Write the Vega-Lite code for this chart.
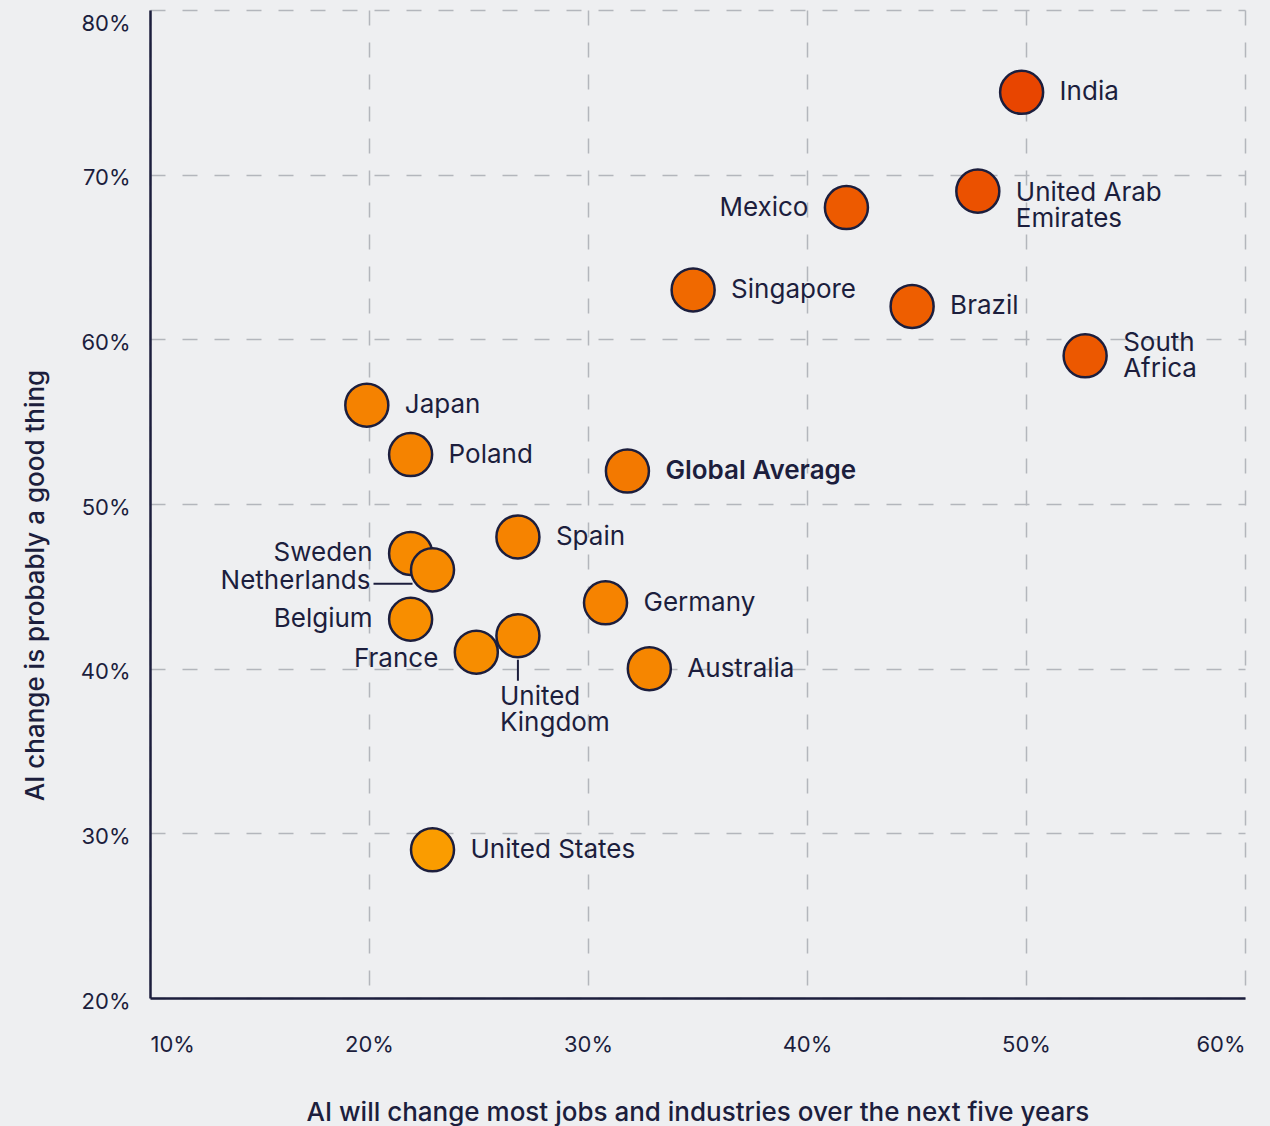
{
  "$schema": "https://vega.github.io/schema/vega-lite/v6.json",
  "width": 1095,
  "height": 988,
  "autosize": "none",
  "padding": {"left": 150, "top": 10, "right": 25, "bottom": 128},
  "background": "#EEEFF1",
  "config": {"view": {"stroke": null}, "font": "Inter"},
  "data": {
    "values": [
      {"country": "India", "x": 49.8, "y": 75},
      {"country": "United Arab Emirates", "x": 47.8, "y": 69},
      {"country": "Mexico", "x": 41.8, "y": 68},
      {"country": "Singapore", "x": 34.8, "y": 63},
      {"country": "Brazil", "x": 44.8, "y": 62},
      {"country": "South Africa", "x": 52.7, "y": 59},
      {"country": "Japan", "x": 19.9, "y": 56},
      {"country": "Poland", "x": 21.9, "y": 53},
      {"country": "Global Average", "x": 31.8, "y": 52},
      {"country": "Spain", "x": 26.8, "y": 48},
      {"country": "Sweden", "x": 21.9, "y": 47},
      {"country": "Netherlands", "x": 22.9, "y": 46},
      {"country": "Germany", "x": 30.8, "y": 44},
      {"country": "Belgium", "x": 21.9, "y": 43},
      {"country": "France", "x": 24.9, "y": 41},
      {"country": "United Kingdom", "x": 26.8, "y": 42},
      {"country": "Australia", "x": 32.8, "y": 40},
      {"country": "United States", "x": 22.9, "y": 29}
    ]
  },
  "transform": [
    {"calculate": "datum.x + datum.y", "as": "combined"},
    {"calculate": "datum.country == 'United Arab Emirates' ? ['United Arab', 'Emirates'] : datum.country == 'South Africa' ? ['South', 'Africa'] : datum.country == 'United Kingdom' ? ['United', 'Kingdom'] : datum.country", "as": "label"}
  ],
  "encoding": {
    "x": {
      "field": "x",
      "type": "quantitative",
      "scale": {"domain": [10, 60], "nice": false, "zero": false},
      "axis": {
        "values": [10, 20, 30, 40, 50, 60],
        "labelExpr": "datum.value + '%'",
        "labelFlush": true,
        "labelPadding": 36,
        "labelFontSize": 22,
        "labelColor": "#1C1E3D",
        "labelFont": "Inter",
        "ticks": false,
        "domainColor": "#1C1E3D",
        "domainWidth": 2.5,
        "gridColor": "#B3B6BC",
        "gridDash": [15, 17],
        "gridWidth": 1.5,
        "title": "AI will change most jobs and industries over the next five years",
        "titleFont": "Inter",
        "titleFontSize": 26,
        "titleFontWeight": 500,
        "titleColor": "#1C1E3D",
        "titleBaseline": "middle",
        "titleY": 114
      }
    },
    "y": {
      "field": "y",
      "type": "quantitative",
      "scale": {"domain": [20, 80], "nice": false, "zero": false},
      "axis": {
        "values": [20, 30, 40, 50, 60, 70, 80],
        "labelExpr": "datum.value + '%'",
        "labelPadding": 20,
        "labelFontSize": 22,
        "labelColor": "#1C1E3D",
        "labelFont": "Inter",
        "labelOffset": 3,
        "labelBaseline": {"condition": {"test": "datum.value == 80", "value": "top"}, "value": "middle"},
        "ticks": false,
        "domainColor": "#1C1E3D",
        "domainWidth": 2.5,
        "gridColor": "#B3B6BC",
        "gridDash": [15, 17],
        "gridWidth": 1.5,
        "title": "AI change is probably a good thing",
        "titleFont": "Inter",
        "titleFontSize": 26,
        "titleFontWeight": 500,
        "titleColor": "#1C1E3D",
        "titleAngle": -90,
        "titleAlign": "center",
        "titleBaseline": "middle",
        "titleX": -115,
        "titleY": 575
      }
    }
  },
  "layer": [
    {
      "transform": [{"filter": "datum.country == 'Netherlands'"}],
      "mark": {"type": "rule", "xOffset": -59, "x2Offset": -20, "yOffset": 14, "y2Offset": 14, "color": "#1C1E3D", "strokeWidth": 2},
      "encoding": {"x2": {"field": "x"}, "y2": {"field": "y"}}
    },
    {
      "transform": [{"filter": "datum.country == 'United Kingdom'"}],
      "mark": {"type": "rule", "yOffset": 24, "y2Offset": 45, "color": "#1C1E3D", "strokeWidth": 2},
      "encoding": {"y2": {"field": "y"}}
    },
    {
      "mark": {"type": "circle", "size": 1850, "opacity": 1, "stroke": "#1C1E3D", "strokeWidth": 2.5},
      "encoding": {
        "color": {
          "field": "combined",
          "type": "quantitative",
          "scale": {"domain": [52, 125], "range": ["#FA9C00", "#E84500"]},
          "legend": null
        }
      }
    },
    {
      "transform": [{"filter": "indexof(['India','Singapore','Brazil','Japan','Poland','Spain','Germany','Australia','United States'], datum.country) >= 0"}],
      "mark": {"type": "text", "align": "left", "baseline": "middle", "dx": 38, "fontSize": 26, "font": "Inter", "color": "#1C1E3D"},
      "encoding": {"text": {"field": "label"}}
    },
    {
      "transform": [{"filter": "datum.country == 'United Arab Emirates'"}],
      "mark": {"type": "text", "align": "left", "baseline": "middle", "dx": 38, "dy": 2, "fontSize": 26, "font": "Inter", "color": "#1C1E3D", "lineHeight": 26},
      "encoding": {"text": {"field": "label"}}
    },
    {
      "transform": [{"filter": "datum.country == 'South Africa'"}],
      "mark": {"type": "text", "align": "left", "baseline": "middle", "dx": 38, "dy": -13, "fontSize": 26, "font": "Inter", "color": "#1C1E3D", "lineHeight": 26},
      "encoding": {"text": {"field": "label"}}
    },
    {
      "transform": [{"filter": "datum.country == 'Global Average'"}],
      "mark": {"type": "text", "align": "left", "baseline": "middle", "dx": 38, "fontSize": 26, "font": "Inter", "fontWeight": 600, "color": "#1C1E3D"},
      "encoding": {"text": {"field": "label"}}
    },
    {
      "transform": [{"filter": "indexof(['Mexico','Sweden','Belgium'], datum.country) >= 0"}],
      "mark": {"type": "text", "align": "right", "baseline": "middle", "dx": -38, "fontSize": 26, "font": "Inter", "color": "#1C1E3D"},
      "encoding": {"text": {"field": "label"}}
    },
    {
      "transform": [{"filter": "datum.country == 'France'"}],
      "mark": {"type": "text", "align": "right", "baseline": "middle", "dx": -38, "dy": 7, "fontSize": 26, "font": "Inter", "color": "#1C1E3D"},
      "encoding": {"text": {"field": "label"}}
    },
    {
      "transform": [{"filter": "datum.country == 'Netherlands'"}],
      "mark": {"type": "text", "align": "right", "baseline": "middle", "dx": -62, "dy": 11, "fontSize": 26, "font": "Inter", "color": "#1C1E3D"},
      "encoding": {"text": {"field": "label"}}
    },
    {
      "transform": [{"filter": "datum.country == 'United Kingdom'"}],
      "mark": {"type": "text", "align": "left", "baseline": "top", "dx": -18, "dy": 48, "fontSize": 26, "font": "Inter", "color": "#1C1E3D", "lineHeight": 26},
      "encoding": {"text": {"field": "label"}}
    }
  ]
}
